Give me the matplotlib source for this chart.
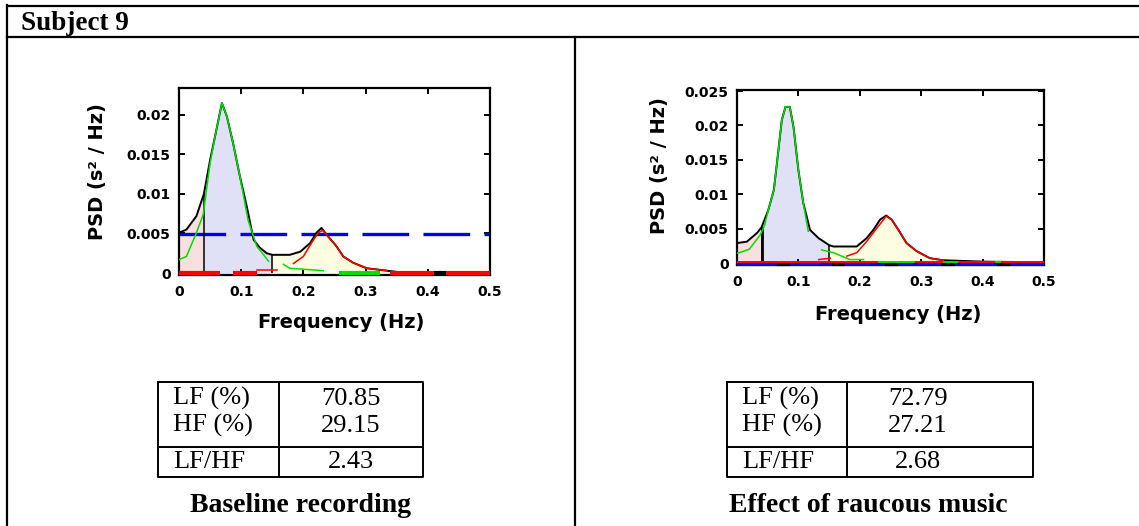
import matplotlib.pyplot as plt

W, H = 1139, 526

# --- left panel: baseline recording ---
base_f = [0.000, 0.012, 0.028, 0.040, 0.050, 0.058, 0.069, 0.077, 0.087, 0.098,
          0.109, 0.120, 0.130, 0.141, 0.150, 0.178, 0.195, 0.211, 0.221, 0.229,
          0.240, 0.253, 0.264, 0.280, 0.302, 0.334, 0.355, 0.400, 0.500]
base_psd = [0.0051, 0.0055, 0.0072, 0.0100, 0.0143, 0.0173, 0.0215, 0.0198, 0.0164, 0.0122,
            0.0084, 0.0042, 0.0032, 0.0025, 0.0023, 0.0023, 0.0027, 0.0038, 0.0051, 0.0057,
            0.0046, 0.0034, 0.0021, 0.0013, 0.0006, 0.0003, 0.0001, 0.0, 0.0]
base_lf_f = [0.000, 0.012, 0.028, 0.039, 0.050, 0.058, 0.069, 0.077, 0.087, 0.098, 0.111, 0.125, 0.144]
base_lf_psd = [0.0017, 0.0021, 0.0051, 0.0074, 0.0139, 0.0173, 0.0215, 0.0198, 0.0164, 0.0122,
               0.0067, 0.0034, 0.0015]
base_lf_tail_f = [0.168, 0.178, 0.232]
base_lf_tail_psd = [0.0011, 0.0006, 0.0003]
base_hf_f = [0.184, 0.200, 0.213, 0.224, 0.231, 0.240, 0.253, 0.264, 0.280, 0.302, 0.334]
base_hf_psd = [0.0012, 0.0021, 0.0038, 0.0051, 0.0054, 0.0046, 0.0034, 0.0021, 0.0013, 0.0006, 0.0003]
base_hf_head_f = [0.125, 0.157]
base_hf_head_psd = [0.0004, 0.0004]
base_threshold = 0.0049
base_floor_red = [(0.0, 0.066), (0.087, 0.125), (0.34, 0.41), (0.43, 0.5)]
base_floor_green = [(0.258, 0.323)]
base_floor_black = [(0.41, 0.43)]
base_yticks = [0, 0.005, 0.01, 0.015, 0.02]
base_yticklabels = ['0', '0.005', '0.01', '0.015', '0.02']

# --- right panel: raucous music ---
music_f = [0.000, 0.016, 0.033, 0.040, 0.051, 0.060, 0.065, 0.073, 0.079, 0.086,
           0.092, 0.100, 0.108, 0.119, 0.133, 0.150, 0.157, 0.195, 0.211, 0.222,
           0.233, 0.243, 0.252, 0.263, 0.276, 0.293, 0.314, 0.336, 0.400, 0.500]
music_psd = [0.0029, 0.0031, 0.0044, 0.0052, 0.0077, 0.0106, 0.0145, 0.0208, 0.0227, 0.0227,
             0.0198, 0.0135, 0.0087, 0.0048, 0.0036, 0.0026, 0.0024, 0.0024, 0.0036, 0.0048,
             0.0063, 0.0069, 0.0063, 0.0048, 0.0029, 0.0017, 0.0007, 0.0004, 0.0002, 0.0001]
music_lf_f = [0.000, 0.020, 0.038, 0.045, 0.051, 0.060, 0.065, 0.073, 0.079, 0.086, 0.092,
              0.100, 0.108, 0.116]
music_lf_psd = [0.0014, 0.0020, 0.0041, 0.0055, 0.0077, 0.0106, 0.0145, 0.0208, 0.0227, 0.0227,
                0.0198, 0.0135, 0.0087, 0.0046]
music_lf_tail_f = [0.138, 0.157, 0.184, 0.206]
music_lf_tail_psd = [0.0019, 0.0015, 0.0005, 0.0005]
music_hf_f = [0.179, 0.195, 0.211, 0.228, 0.243, 0.252, 0.263, 0.276, 0.293, 0.314, 0.336]
music_hf_psd = [0.0010, 0.0015, 0.0031, 0.0051, 0.0068, 0.0063, 0.0048, 0.0029, 0.0017, 0.0007, 0.0004]
music_hf_head_f = [0.133, 0.152]
music_hf_head_psd = [0.0005, 0.0007]
music_floor_green = [(0.23, 0.29), (0.335, 0.36), (0.42, 0.43)]
music_floor_black = [(0.065, 0.087), (0.154, 0.176), (0.241, 0.263), (0.333, 0.355), (0.423, 0.444)]
music_yticks = [0, 0.005, 0.01, 0.015, 0.02, 0.025]
music_yticklabels = ['0', '0.005', '0.01', '0.015', '0.02', '0.025']

xticks = [0, 0.1, 0.2, 0.3, 0.4, 0.5]
xticklabels = ['0', '0.1', '0.2', '0.3', '0.4', '0.5']

table_labels = ['LF (%)', 'HF (%)', 'LF/HF']
base_values = ['70.85', '29.15', '2.43']
music_values = ['72.79', '27.21', '2.68']
captions = ['Baseline recording', 'Effect of raucous music']

VLF_C, LF_C, HF_C = '#f9dfdf', '#e0e0f7', '#fdfde1'
SERIF = 'Liberation Serif'


def px_box(l, t, r, b):
    return [l / W, 1 - b / H, (r - l) / W, (b - t) / H]


def style_axes(ax, ylim, yticks, yticklabels):
    ax.set_xlim(0, 0.5)
    ax.set_ylim(*ylim)
    ax.set_xticks(xticks)
    ax.set_xticklabels(xticklabels)
    ax.set_yticks(yticks)
    ax.set_yticklabels(yticklabels)
    ax.tick_params(direction='in', length=4, width=1.4, top=True, right=True,
                   labelsize=10)
    ax.tick_params(axis='x', pad=7)
    ax.tick_params(axis='y', pad=6)
    for lab in ax.get_xticklabels() + ax.get_yticklabels():
        lab.set_fontweight('bold')
    for sp in ax.spines.values():
        sp.set_linewidth(1.6)


def draw_spectrum(ax, f, psd):
    ax.fill_between(f, psd, where=[x <= 0.04 for x in f], color=VLF_C, lw=0, zorder=1)
    ax.fill_between(f, psd, where=[0.04 <= x <= 0.15 for x in f], color=LF_C, lw=0, zorder=1)
    ax.fill_between(f, psd, where=[0.15 <= x <= 0.40 for x in f], color=HF_C, lw=0, zorder=1)
    for edge in (0.04, 0.15):
        ax.vlines(edge, 0, psd[f.index(edge)], color='black', lw=1.1, zorder=3)
    ax.plot(f, psd, color='black', lw=1.4, zorder=3)


def floor(ax, segments, y, color, lw):
    for a, b in segments:
        ax.plot([a, b], [y, y], color=color, lw=lw, solid_capstyle='butt',
                zorder=5, clip_on=False)


fig = plt.figure(figsize=(W / 100, H / 100), dpi=100)

# page layout: borders, header, tables, captions
bg = fig.add_axes([0, 0, 1, 1])
bg.set_xlim(0, W)
bg.set_ylim(H, 0)
bg.axis('off')
bg.plot([7, W], [5.5, 5.5], color='black', lw=1.6)
bg.plot([7, W], [37, 37], color='black', lw=1.6)
bg.plot([7, 7], [5, H], color='black', lw=1.6)
bg.plot([574.5, 574.5], [37, H], color='black', lw=1.6)
bg.text(21, 29.5, 'Subject 9', family=SERIF, weight='bold', fontsize=19.5, va='baseline')

tables = [(158, 279, 423, 173, 351, base_values, 300),
          (727, 847, 1033, 742, 918, music_values, 868)]
for (left, mid, right, tx, vx, values, cx), caption in zip(tables, captions):
    bg.plot([left, right, right, left, left], [382, 382, 477, 477, 382], color='black', lw=1.4)
    bg.plot([left, right], [447, 447], color='black', lw=1.4)
    bg.plot([mid, mid], [382, 477], color='black', lw=1.4)
    for lab, val, yb in zip(table_labels, values, [405, 431.5, 468]):
        bg.text(tx, yb, lab, family=SERIF, fontsize=19, va='baseline')
        bg.text(vx, yb, val, family=SERIF, fontsize=19, va='baseline', ha='center')
    bg.text(cx, 511.5, caption, family=SERIF, weight='bold', fontsize=20,
            va='baseline', ha='center')

# axis labels
label_kw = dict(family='DejaVu Sans', weight='bold', fontsize=14, ha='center', va='center')
bg.text(97, 172, 'PSD (s² / Hz)', rotation=90, **label_kw)
bg.text(341, 322, 'Frequency (Hz)', **label_kw)
bg.text(660, 166, 'PSD (s² / Hz)', rotation=90, **label_kw)
bg.text(898, 314, 'Frequency (Hz)', **label_kw)

# left spectrum
ax1 = fig.add_axes(px_box(179, 88, 490, 275))
style_axes(ax1, (-0.00025, 0.0234), base_yticks, base_yticklabels)
draw_spectrum(ax1, base_f, base_psd)
thr, = ax1.plot([0, 0.5], [base_threshold] * 2, color='#0000ee', lw=2.4, zorder=2)
thr.set_dashes((14, 4.3))
thr.set_dash_capstyle('butt')
ax1.plot(base_lf_f, base_lf_psd, color='#00e000', lw=1.1, zorder=4)
ax1.plot(base_lf_tail_f, base_lf_tail_psd, color='#00e000', lw=1.1, zorder=4)
ax1.plot(base_hf_head_f, base_hf_head_psd, color='#ff0000', lw=1.1, zorder=4)
ax1.plot(base_hf_f, base_hf_psd, color='#ff0000', lw=1.1, zorder=4)
floor(ax1, base_floor_red, 0, '#ff0000', 3)
floor(ax1, base_floor_green, 0, '#00e000', 3)
floor(ax1, base_floor_black, 0, 'black', 3)

# right spectrum
ax2 = fig.add_axes(px_box(737, 90, 1044, 265))
style_axes(ax2, (-0.00029, 0.02515), music_yticks, music_yticklabels)
draw_spectrum(ax2, music_f, music_psd)
ax2.vlines(0.04, 0, music_psd[music_f.index(0.04)], color='black', lw=2, zorder=3)
ax2.plot(music_lf_f, music_lf_psd, color='#00e000', lw=1.1, zorder=4)
ax2.plot(music_lf_tail_f, music_lf_tail_psd, color='#00e000', lw=1.1, zorder=4)
ax2.plot(music_hf_head_f, music_hf_head_psd, color='#ff0000', lw=1.1, zorder=4)
ax2.plot(music_hf_f, music_hf_psd, color='#ff0000', lw=1.1, zorder=4)
floor(ax2, [(0, 0.5)], -0.0002, '#0000ee', 3)
floor(ax2, music_floor_black, -0.0002, 'black', 3)
floor(ax2, [(0, 0.5)], 0.00015, '#ff0000', 1.4)
floor(ax2, music_floor_green, 0.00015, '#00e000', 1.4)

fig.savefig('out.png', dpi=100)
